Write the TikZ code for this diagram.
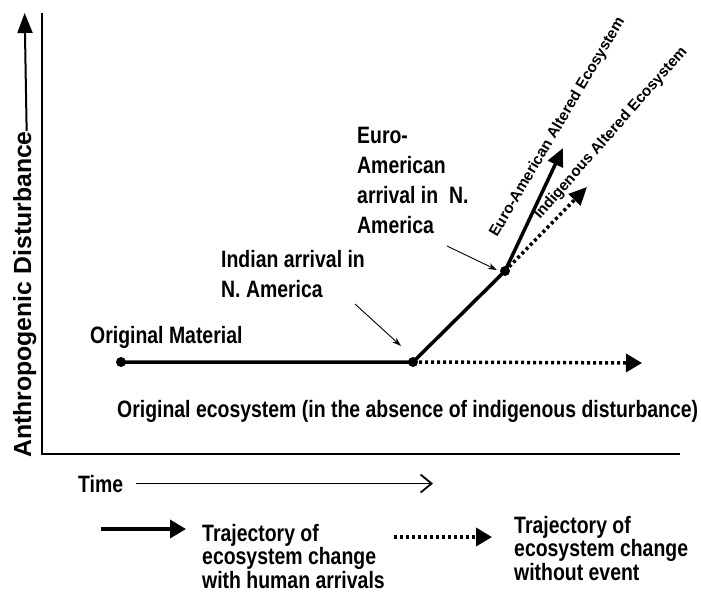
\documentclass[tikz,border=0pt]{standalone}
\usepackage{fontspec}
\setmainfont{Liberation Sans}
\newfontfamily\narrowfont[FakeStretch=0.82]{Liberation Sans}
\usetikzlibrary{arrows.meta}

\tikzset{
  dot/.style={circle,fill=black,inner sep=0pt,minimum size=10pt},
  trajline/.style={line width=3.5pt},
  dotline/.style={line width=3.5pt,dash pattern=on 3pt off 3pt},
  bigtip/.style={-{Triangle[length=18pt,width=16pt]}},
  legtip/.style={-{Triangle[length=16pt,width=18pt]}},
  pointer/.style={-{Stealth[length=9pt,width=6pt]},line width=0.9pt},
  lbl/.style={font=\narrowfont\bfseries\fontsize{23.7}{30}\selectfont,inner sep=0pt,anchor=base west,align=left},
  legtxt/.style={lbl,font=\narrowfont\bfseries\fontsize{23.7}{23.5}\selectfont},
  tiltlbl/.style={font=\bfseries\fontsize{15.3}{18}\selectfont,inner sep=0pt,anchor=base west},
  axislbl/.style={font=\bfseries\fontsize{24.8}{28}\selectfont,inner sep=0pt,anchor=base west,rotate=90}
}

\begin{document}
\begin{tikzpicture}[x=1pt,y=-1pt]
\useasboundingbox (0,0) rectangle (701,592);
% Axes
\coordinate (o) at (42,454);
\coordinate (ytop) at (42,13);
\coordinate (xend) at (680,454);
\draw[line width=2pt] (ytop) -- (o) -- (xend);
\node[axislbl] (ylab) at (31,458) {Anthropogenic Disturbance};
\draw[line width=2pt,-{Triangle[length=20pt,width=15pt]}] ([xshift=2pt]ylab.east) -- (ylab.east |- ytop);

% Trajectoires
\node[dot] (orig) at (121,362) {};
\node[dot] (indian) at (413,362) {};
\node[dot] (euro) at (505,271) {};
\coordinate (euroTip) at (563,148);
\coordinate (indigTip) at (587,187);
\coordinate (noEvent) at (642,363);
\draw[trajline] (orig.center) -- (indian.center) -- (euro.center);
\draw[trajline,bigtip] (euro.center) -- (euroTip);
\draw[dotline,bigtip] (euro.center) -- (indigTip);
\draw[dotline,legtip] (indian.center) -- (noEvent);

% Flèches d'arrivée
\coordinate (indianPtr) at (355,304);
\coordinate (indianEnd) at (401,346);
\coordinate (euroPtr) at (447,246);
\coordinate (euroEnd) at (497,270);
\draw[pointer] (indianPtr) -- (indianEnd);
\draw[pointer] (euroPtr) -- (euroEnd);

% Textes
\node[lbl] (origMat) at (90,343) {Original Material};
\node[lbl] (indianTxt) at (221,297) {Indian arrival in\\N. America};
\node[lbl] (euroTxt) at (357,233) {Euro-\\American\\arrival in\ \ N.\\America};
\node[lbl] (origEco) at (117,417) {Original ecosystem (in the absence of indigenous disturbance)};
\node[tiltlbl,rotate=59.5] (euroAlt) at (497,238) {Euro-American Altered Ecosystem};
\node[tiltlbl,rotate=48.7] (indigAlt) at (540,220) {Indigenous Altered Ecosystem};

% Temps
\node[lbl] (time) at (78,492) {Time};
\coordinate (timeEnd) at (433,487);
\draw[line width=1.8pt,-{Straight Barb[length=11pt,width=18pt]}] ([xshift=13pt]time.east) -- (timeEnd |- time.east);

% Légende
\coordinate (legA) at (101,529);
\coordinate (legB) at (186,529);
\coordinate (legC) at (394,537);
\coordinate (legD) at (492,537);
\draw[trajline,legtip] (legA) -- (legB);
\draw[dotline,legtip] (legC) -- (legD);
\node[legtxt] (legTxtA) at (202,588) {Trajectory of\\ecosystem change\\with human arrivals};
\node[legtxt] (legTxtB) at (514,580) {Trajectory of\\ecosystem change\\without event};
\end{tikzpicture}
\end{document}
